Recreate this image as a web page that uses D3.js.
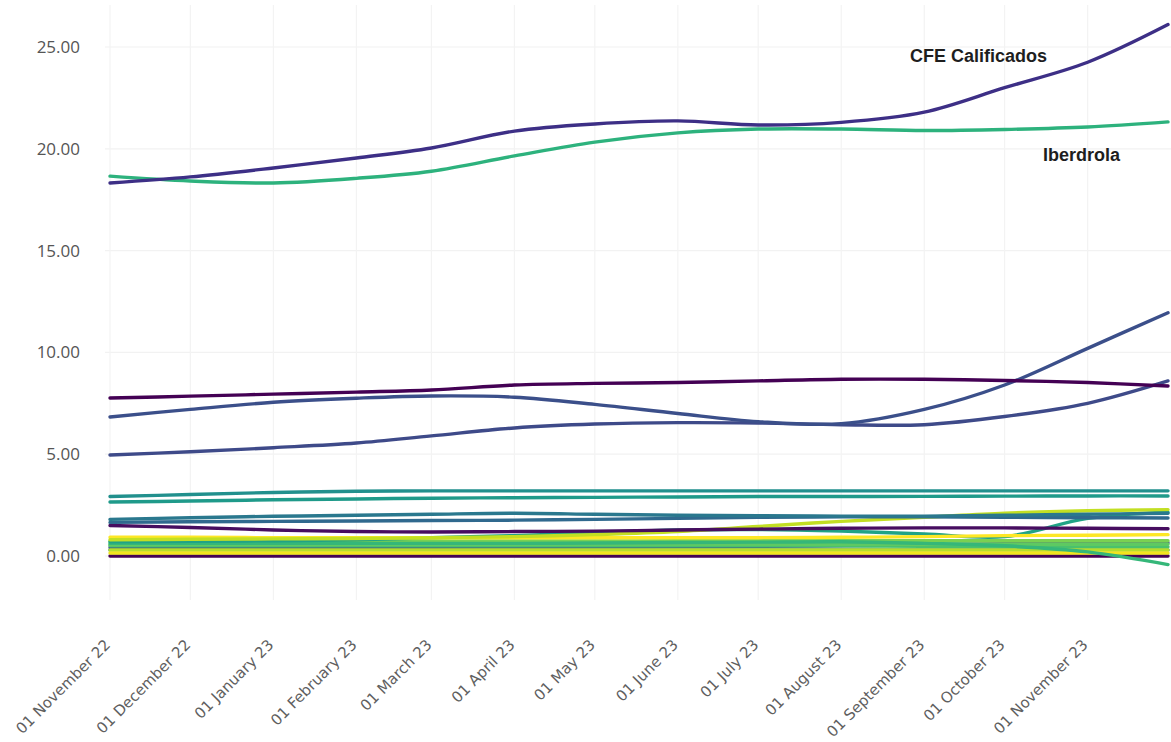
<!DOCTYPE html>
<html>
<head>
<meta charset="utf-8">
<script src="https://cdn.jsdelivr.net/npm/d3@7"></script>
<style>
  html, body { margin: 0; padding: 0; background: #ffffff; }
  svg { display: block; }
</style>
</head>
<body>
<svg id="chart" width="1171" height="742"></svg>
<script>
// ---------- DATA ----------
const months = ["2022-11-01","2022-12-01","2023-01-01","2023-02-01","2023-03-01","2023-04-01",
                "2023-05-01","2023-06-01","2023-07-01","2023-08-01","2023-09-01","2023-10-01",
                "2023-11-01","2023-12-01"];
const tickDates = ["2022-11-01","2022-12-01","2023-01-01","2023-02-01","2023-03-01","2023-04-01",
                   "2023-05-01","2023-06-01","2023-07-01","2023-08-01","2023-09-01","2023-10-01",
                   "2023-11-01"];
const tickLabels = ["01 November 22","01 December 22","01 January 23","01 February 23","01 March 23",
                    "01 April 23","01 May 23","01 June 23","01 July 23","01 August 23",
                    "01 September 23","01 October 23","01 November 23"];
const yTicks = [0, 5, 10, 15, 20, 25];

const cfeCalificados = [18.32,18.62,19.06,19.55,20.04,20.87,21.22,21.37,21.17,21.30,21.80,23.00,24.25,26.10];
const iberdrola      = [18.66,18.42,18.32,18.55,18.90,19.65,20.33,20.78,20.97,20.97,20.90,20.95,21.07,21.32];
const serieP1        = [7.76,7.85,7.95,8.05,8.15,8.40,8.48,8.52,8.60,8.68,8.68,8.62,8.52,8.35];
const serieB1        = [6.83,7.20,7.55,7.75,7.86,7.80,7.45,7.00,6.60,6.50,7.20,8.40,10.20,11.95];
const serieB2        = [4.96,5.12,5.32,5.55,5.90,6.29,6.48,6.55,6.53,6.45,6.45,6.85,7.50,8.60];
const serieT1        = [2.92,3.02,3.12,3.18,3.20,3.20,3.20,3.20,3.20,3.20,3.20,3.20,3.20,3.20];
const serieT2        = [2.65,2.70,2.76,2.80,2.84,2.86,2.88,2.90,2.92,2.92,2.93,2.94,2.95,2.95];
const serieBT1       = [1.80,1.88,1.95,2.00,2.05,2.10,2.05,2.00,1.98,1.96,1.96,2.00,2.05,2.10];
const serieBT2       = [1.65,1.68,1.70,1.72,1.74,1.76,1.80,1.85,1.90,1.92,1.92,1.90,1.88,1.87];
const serieP2        = [1.50,1.40,1.28,1.20,1.18,1.20,1.22,1.28,1.32,1.36,1.38,1.38,1.36,1.34];
const serieB3        = [0.42,0.42,0.42,0.42,0.43,0.44,0.45,0.46,0.48,0.50,0.55,0.60,0.63,0.65];
const serieT3        = [0.30,0.30,0.30,0.30,0.30,0.30,0.30,0.30,0.30,0.30,0.30,0.30,0.30,0.30];
const serieG1        = [0.70,0.72,0.75,0.80,0.90,1.00,1.15,1.28,1.30,1.22,1.08,0.95,1.85,2.15];
const serieG2        = [0.62,0.62,0.62,0.62,0.62,0.62,0.64,0.66,0.68,0.70,0.62,0.50,0.20,-0.42];
const serieG3        = [0.50,0.50,0.50,0.50,0.50,0.50,0.50,0.50,0.50,0.50,0.48,0.46,0.45,0.45];
const serieG4        = [0.55,0.56,0.56,0.57,0.58,0.58,0.58,0.58,0.58,0.58,0.58,0.58,0.58,0.58];
const serieLG1       = [0.72,0.72,0.72,0.73,0.73,0.74,0.74,0.75,0.75,0.75,0.75,0.75,0.75,0.75];
const serieYG1       = [0.80,0.82,0.84,0.86,0.90,0.95,1.05,1.20,1.45,1.70,1.90,2.10,2.22,2.28];
const serieYG2       = [0.30,0.30,0.30,0.30,0.30,0.30,0.30,0.30,0.30,0.30,0.30,0.30,0.30,0.30];
const serieY1        = [0.92,0.92,0.90,0.90,0.90,0.90,0.90,0.90,0.90,0.92,0.95,1.00,1.02,1.05];
const serieY2        = [0.15,0.15,0.15,0.15,0.15,0.15,0.15,0.15,0.15,0.15,0.15,0.15,0.15,0.15];
const serieP3        = [0.00,0.00,0.00,0.00,0.00,0.00,0.00,0.00,0.00,0.00,0.00,0.00,0.00,0.00];

const seriesNames = ["P3","T3","B3","G3","G4","LG1","YG2","Y2","G2","G1","Y1","YG1",
                     "P2","BT2","BT1","T2","T1","B2","B1","P1","Iberdrola","CFE Calificados"];
const seriesValues = [serieP3,serieT3,serieB3,serieG3,serieG4,serieLG1,serieYG2,serieY2,serieG2,serieG1,
                      serieY1,serieYG1,serieP2,serieBT2,serieBT1,serieT2,serieT1,serieB2,serieB1,serieP1,
                      iberdrola,cfeCalificados];
const seriesColors = ["#440154","#26828e","#3b528b","#4ac16d","#5ec962","#7ad151","#b5de2b","#f2e51d",
                      "#35b779","#20a386","#fde725","#c2df23","#470d60","#30698e","#2a788e","#1f9a8a",
                      "#21908d","#3e4a89","#3b4f8a","#440154","#2db27d","#3d2f86"];

// ---------- CHART ----------
const svg = d3.select("#chart");
const W = 1171, H = 742;
const parse = d3.utcParse("%Y-%m-%d");

const x = d3.scaleUtc()
  .domain([parse(months[0]), parse(months[months.length - 1])])
  .range([110, 1168]);
const y = d3.scaleLinear().domain([0, 25]).range([556, 47]);
const color = d3.scaleOrdinal().domain(seriesNames).range(seriesColors);

const plotTop = 5, plotBottom = 600;

// gridlines
svg.append("g").selectAll("line.h").data(yTicks).join("line")
  .attr("x1", 105).attr("x2", W).attr("y1", d => y(d)).attr("y2", d => y(d))
  .attr("stroke", "#f2f2f2").attr("stroke-width", 1.2);
svg.append("g").selectAll("line.v").data(tickDates).join("line")
  .attr("x1", d => x(parse(d))).attr("x2", d => x(parse(d)))
  .attr("y1", plotTop).attr("y2", plotBottom)
  .attr("stroke", "#f3f3f3").attr("stroke-width", 1.2);

// y axis
const yAxis = svg.append("g").attr("transform", "translate(110,0)")
  .call(d3.axisLeft(y).tickValues(yTicks).tickFormat(d3.format(".2f")).tickSize(0).tickPadding(30));
yAxis.select(".domain").remove();
yAxis.selectAll("text")
  .attr("font-family", "'Open Sans', sans-serif").attr("font-size", 17)
  .attr("fill", "#555");

// x axis
const xAxis = svg.append("g").attr("transform", `translate(0,${plotBottom})`)
  .call(d3.axisBottom(x).tickValues(tickDates.map(parse))
        .tickFormat((d, i) => tickLabels[i]).tickSize(0));
xAxis.select(".domain").remove();
xAxis.selectAll("text")
  .attr("font-family", "'DejaVu Sans', Verdana, sans-serif").attr("font-size", 15)
  .attr("fill", "#5f5f5f")
  .attr("text-anchor", "end")
  .attr("x", 0).attr("y", 0).attr("dy", "0.35em")
  .attr("transform", "translate(-3,42) rotate(-45)");

// lines
const line = d3.line()
  .x((d, i) => x(parse(months[i])))
  .y(d => y(d))
  .curve(d3.curveCatmullRom.alpha(0.5));

svg.append("g").selectAll("path.series")
  .data(seriesNames.map((n, i) => ({name: n, values: seriesValues[i]})))
  .join("path")
  .attr("class", "series")
  .attr("fill", "none")
  .attr("stroke", d => color(d.name))
  .attr("stroke-width", 3.4)
  .attr("stroke-linecap", "round")
  .attr("d", d => line(d.values));

// annotations
svg.append("text").attr("x", 910).attr("y", 62)
  .attr("font-family", "'Liberation Sans', Arial, sans-serif").attr("font-weight", "bold")
  .attr("font-size", 18).attr("fill", "#1e1e1e").text("CFE Calificados");
svg.append("text").attr("x", 1043).attr("y", 161)
  .attr("font-family", "'Liberation Sans', Arial, sans-serif").attr("font-weight", "bold")
  .attr("font-size", 18).attr("fill", "#1e1e1e").text("Iberdrola");
</script>
</body>
</html>
